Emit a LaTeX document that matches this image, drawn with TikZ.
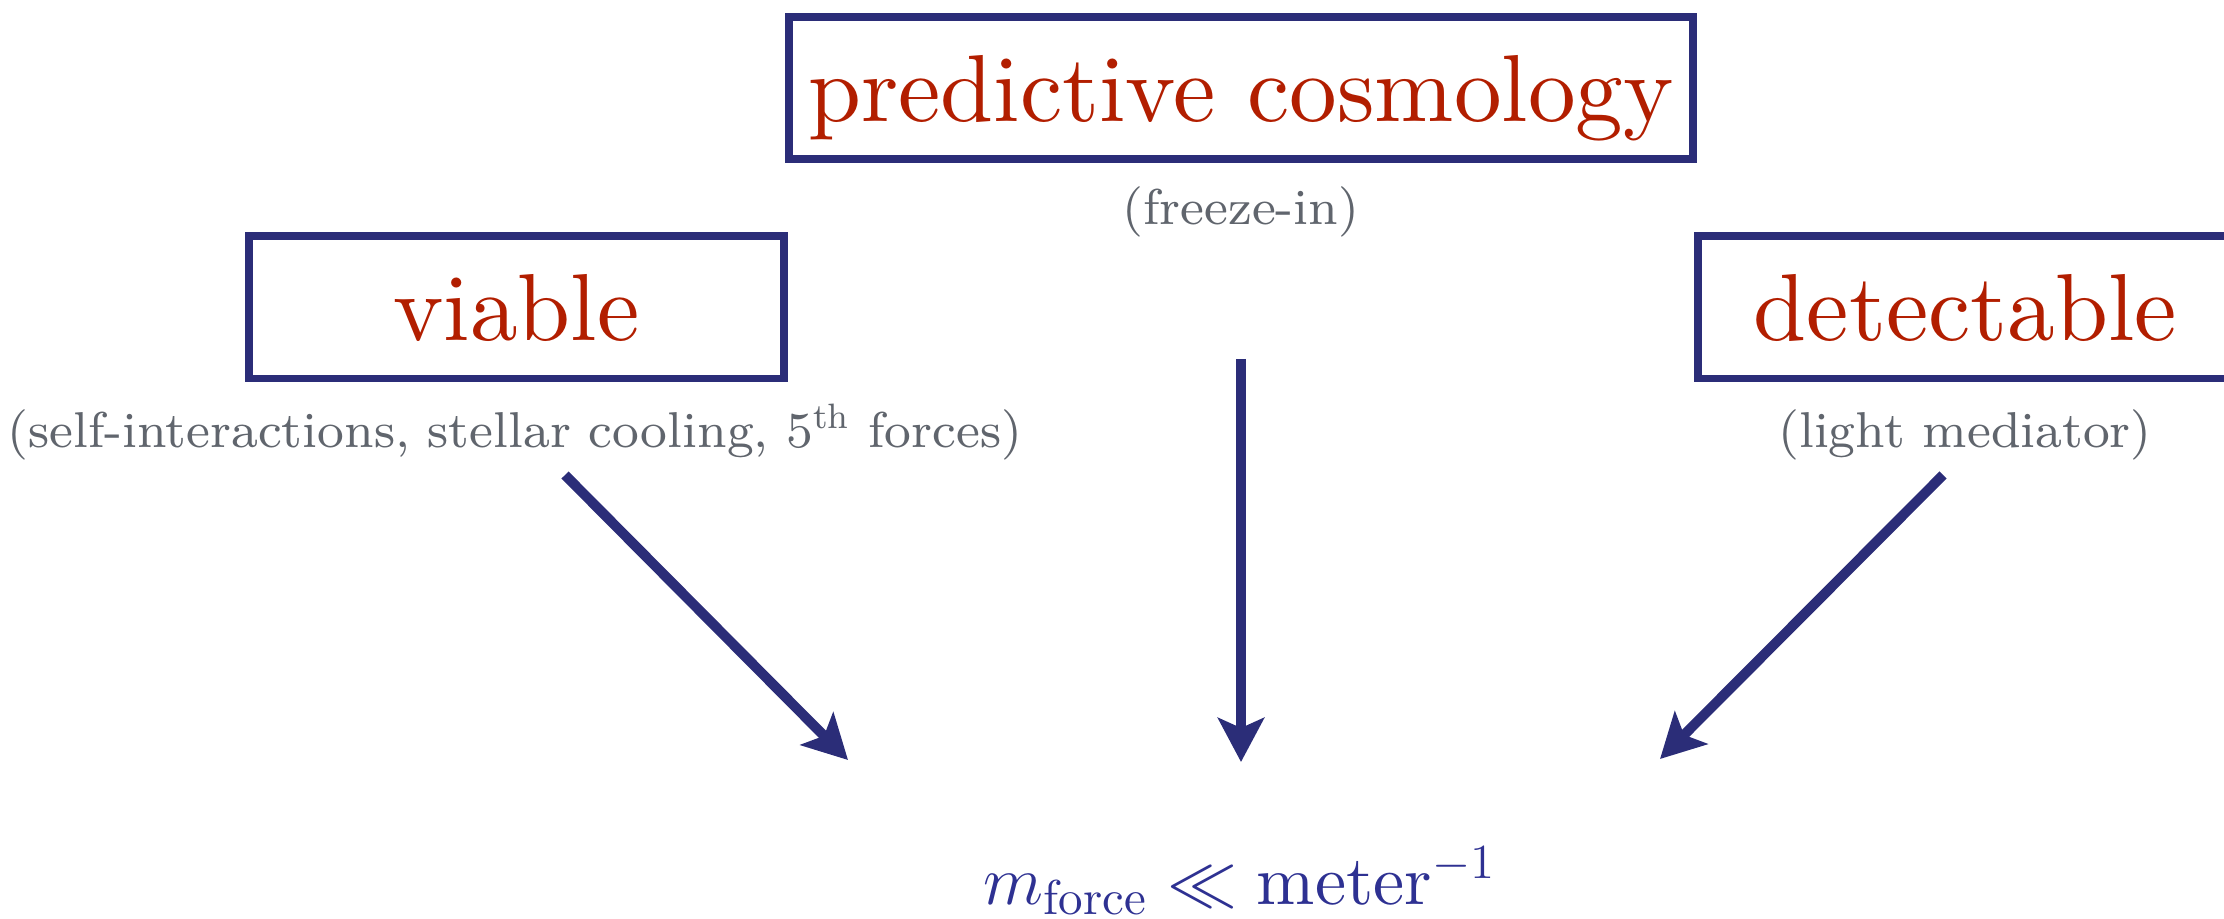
\RequirePackage{fix-cm}
\documentclass[tikz,border=0pt]{standalone}
\usepackage{amsmath}
\usepackage{fontspec}
\setmainfont{lmroman10-regular.otf}
\newfontfamily\notefont{lmroman8-regular.otf}
\usetikzlibrary{arrows.meta,positioning}
\definecolor{Navy}{HTML}{2B2D78}
\definecolor{Ink}{HTML}{2E3192}
\definecolor{Brick}{HTML}{B21E00}
\definecolor{Slate}{HTML}{60656D}

\begin{document}
\begin{tikzpicture}[x=0.25pt,y=-0.25pt,
  box/.style={draw=Navy,line width=1.9pt,text=Brick,text depth=0pt,inner sep=0pt,
    minimum height=35.6pt,font=\fontsize{23.8}{28}\selectfont},
  note/.style={text=Slate,anchor=base,font=\notefont\fontsize{12.6}{15}\selectfont},
  push/.style={-{Stealth[length=11pt,width=11.5pt,inset=2.5pt]},Navy,line width=2.5pt}]
  \useasboundingbox (0,0) rectangle (2224,919);
  \clip (0,0) rectangle (2224,919);
  \node[box,minimum width=226pt] (cosmo) at (1241,88) {predictive cosmology};
  \node[box,minimum width=133.75pt] (viable) at (516.5,307.5) {viable};
  \node[box,minimum width=133.75pt] (detect) at (1965.5,307.5) {detectable};
  \node[note] (cosmonote) at (1241,225) {(freeze-in)};
  \node[note] (viablenote) at (515,447) {(self-interactions, stellar cooling, 5\textsuperscript{th} forces)};
  \node[note] (detectnote) at (1965,447) {(light mediator)};
  \node[Ink,anchor=base,font=\fontsize{17.5}{21}\selectfont] (mforce) at (1240,904) {$m_{\text{force}}\ll\text{meter}^{-1}$};
  \coordinate (vtail) at (565,475);
  \coordinate (vtip) at (848,760);
  \coordinate (ctail) at (1241,359);
  \coordinate (ctip) at (1241,762);
  \coordinate (dtail) at (1943,475);
  \coordinate (dtip) at (1660,759);
  \draw[push] (vtail) -- (vtip);
  \draw[push] (ctail) -- (ctip);
  \draw[push] (dtail) -- (dtip);
\end{tikzpicture}
\end{document}
